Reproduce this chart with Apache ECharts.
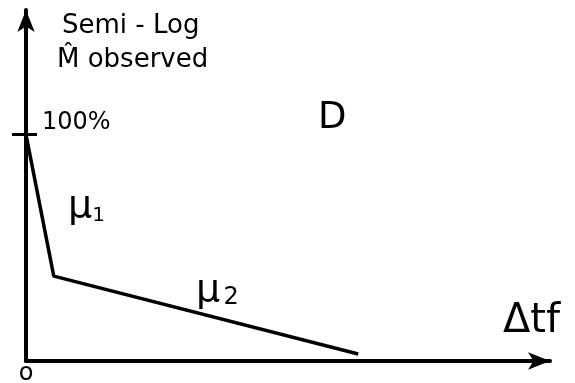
<!DOCTYPE html>
<html>
<head>
<meta charset="utf-8">
<script src="https://cdn.jsdelivr.net/npm/echarts@6.0.0/dist/echarts.min.js"></script>
<style>
  html, body { margin: 0; padding: 0; background: #fff; }
  #main { width: 575px; height: 383px; }
</style>
</head>
<body>
<div id="main"></div>
<script>
// sketch values: time since start (Δtf) and observed M (percent of start)
var tfValues = [0, 5.3, 63.4];
var mValues = [100, 37.5, 3.1];
var yTicks = [100];

var myChart = echarts.init(document.getElementById('main'));
var font = 'DejaVu Sans';

function yAxisBase() {
    return {
        type: 'value',
        position: 'left',
        min: 0,
        max: 155,
        interval: 100,
        splitLine: { show: false }
    };
}

var yMain = yAxisBase();
yMain.axisLine = {
    lineStyle: { color: '#000', width: 4 },
    symbol: ['none', 'arrow'],
    symbolSize: [13, 22]
};
yMain.axisTick = {
    customValues: yTicks,
    length: 14,
    lineStyle: { color: '#000', width: 3 }
};
yMain.axisLabel = {
    customValues: yTicks,
    inside: true,
    margin: 16,
    color: '#000',
    fontFamily: font,
    fontSize: 24,
    verticalAlign: 'bottom',
    formatter: function (v) { return v + '%'; }
};

// second axis only to let the 100% tick cross to the inside
var yInner = yAxisBase();
yInner.axisLine = { show: false };
yInner.axisTick = {
    customValues: yTicks,
    inside: true,
    length: 11,
    lineStyle: { color: '#000', width: 3 }
};
yInner.axisLabel = { show: false };

var option = {
    backgroundColor: '#fff',
    animation: false,
    grid: { left: 26, right: 25, top: 10, bottom: 22, outerBoundsMode: 'none', containLabel: false },
    xAxis: {
        type: 'value',
        min: 0,
        max: 100,
        interval: 100,
        axisLine: {
            lineStyle: { color: '#000', width: 4 },
            symbol: ['none', 'arrow'],
            symbolSize: [13, 22]
        },
        axisTick: { show: false },
        splitLine: { show: false },
        axisLabel: {
            margin: 1,
            color: '#000',
            fontFamily: font,
            fontSize: 24,
            formatter: function (v) { return v === 0 ? 'o' : ''; }
        }
    },
    yAxis: [yMain, yInner],
    series: [{
        type: 'line',
        data: tfValues.map(function (t, i) { return [t, mValues[i]]; }),
        symbol: 'none',
        lineStyle: { color: '#000', width: 3.5 }
    }],
    graphic: [
        { type: 'text', left: 62, top: 13, style: { text: 'Semi - Log', fontFamily: font, fontSize: 26, fill: '#000' } },
        { type: 'text', left: 57, top: 47, style: { text: 'M\u0302 observed', fontFamily: font, fontSize: 26, fill: '#000' } },
        { type: 'text', left: 318, top: 100, style: { text: 'D', fontFamily: font, fontSize: 37, fill: '#000' } },
        {
            type: 'text', left: 68, top: 188,
            style: {
                text: '{m|\u03bc}{s|1}',
                fill: '#000',
                rich: {
                    m: { fontFamily: font, fontSize: 38, fill: '#000' },
                    s: { fontFamily: font, fontSize: 20, fill: '#000', verticalAlign: 'bottom' }
                }
            }
        },
        {
            type: 'text', left: 196, top: 272,
            style: {
                text: '{m|\u03bc} {s|2}',
                fill: '#000',
                rich: {
                    m: { fontFamily: font, fontSize: 38, fill: '#000' },
                    s: { fontFamily: font, fontSize: 24, fill: '#000', verticalAlign: 'bottom' }
                }
            }
        },
        { type: 'text', left: 503, top: 302, style: { text: '\u0394tf', fontFamily: font, fontSize: 40, fill: '#000' } }
    ]
};

myChart.setOption(option);
</script>
</body>
</html>
